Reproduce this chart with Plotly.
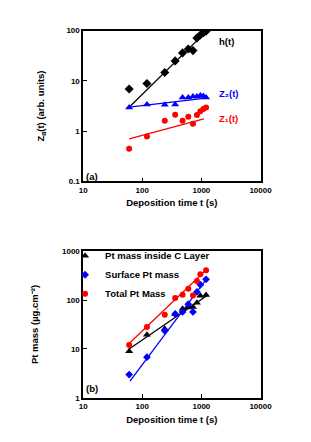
import plotly.graph_objects as go

# ---- Panel (a) data ----
t_a = [60, 120, 240, 360, 480, 600, 720, 840, 960, 1080, 1200]
h_t = [6.9, 8.9, 14.7, 25, 36, 43, 40, 71, 82, 91, 97]
z2_t = [2.95, 3.4, 3.35, 3.4, 4.7, 4.7, 4.9, 4.9, 5.1, 5.0, 4.7]
z1_t = [0.45, 0.78, 1.62, 2.12, 1.62, 1.94, 1.41, 2.1, 2.5, 2.77, 2.95]

h_fit_t = [60, 1250]
h_fit = [3.0, 100]
z2_fit_t = [60, 1300]
z2_fit = [3.0, 4.6]
z1_fit_t = [60, 1100]
z1_fit = [0.70, 1.75]

# ---- Panel (b) data ----
t_b = [60, 120, 240, 360, 480, 600, 720, 840, 960, 1200]
inside_mass = [9, 19.5, 26, 52, 66, 70, 72, 88, 122, 126]
surface_mass = [3.0, 6.8, 23.5, 52, 57, 82, 57, 146, 205, 265]
total_mass = [12, 28, 50, 110, 128, 170, 123, 245, 335, 405]

inside_fit_t = [60, 1250]
inside_fit = [10, 124]
surface_fit_t = [62, 1250]
surface_fit = [2.2, 280]
total_fit_t = [60, 1250]
total_fit = [13, 430]

xticks = [10, 100, 1000, 10000]
yticks_a = [0.1, 1, 10, 100]
yticks_b = [1, 10, 100, 1000]

BLUE = "#0000FF"
RED = "#FF0000"
BLACK = "#000000"
FONT = "Liberation Sans"

W, H = 311, 442
fig = go.Figure()

# panel (a)
fig.add_trace(go.Scatter(x=h_fit_t, y=h_fit, mode="lines", line=dict(color=BLACK, width=1.3),
                         xaxis="x", yaxis="y", showlegend=False))
fig.add_trace(go.Scatter(x=z2_fit_t, y=z2_fit, mode="lines", line=dict(color=BLUE, width=1.3),
                         xaxis="x", yaxis="y", showlegend=False))
fig.add_trace(go.Scatter(x=z1_fit_t, y=z1_fit, mode="lines", line=dict(color=RED, width=1.3),
                         xaxis="x", yaxis="y", showlegend=False))
fig.add_trace(go.Scatter(x=t_a, y=h_t, mode="markers", marker=dict(symbol="diamond", size=7, color=BLACK),
                         xaxis="x", yaxis="y", showlegend=False))
fig.add_trace(go.Scatter(x=t_a, y=z2_t, mode="markers", marker=dict(symbol="triangle-up", size=7, color=BLUE),
                         xaxis="x", yaxis="y", showlegend=False))
fig.add_trace(go.Scatter(x=t_a, y=z1_t, mode="markers", marker=dict(symbol="circle", size=6, color=RED),
                         xaxis="x", yaxis="y", showlegend=False))

# panel (b)
fig.add_trace(go.Scatter(x=inside_fit_t, y=inside_fit, mode="lines", line=dict(color=BLACK, width=1.3),
                         xaxis="x2", yaxis="y2", showlegend=False))
fig.add_trace(go.Scatter(x=surface_fit_t, y=surface_fit, mode="lines", line=dict(color=BLUE, width=1.3),
                         xaxis="x2", yaxis="y2", showlegend=False))
fig.add_trace(go.Scatter(x=total_fit_t, y=total_fit, mode="lines", line=dict(color=RED, width=1.3),
                         xaxis="x2", yaxis="y2", showlegend=False))
fig.add_trace(go.Scatter(x=t_b, y=inside_mass, mode="markers", name="Pt mass inside C Layer",
                         marker=dict(symbol="triangle-up", size=7, color=BLACK), xaxis="x2", yaxis="y2"))
fig.add_trace(go.Scatter(x=t_b, y=surface_mass, mode="markers", name="Surface Pt mass",
                         marker=dict(symbol="diamond", size=6, color=BLUE), xaxis="x2", yaxis="y2"))
fig.add_trace(go.Scatter(x=t_b, y=total_mass, mode="markers", name="Total Pt Mass",
                         marker=dict(symbol="circle", size=6, color=RED), xaxis="x2", yaxis="y2"))

xd = [75 / W, 262 / W]
ya = [1 - 173 / H, 1 - 19 / H]
yb = [1 - 394 / H, 1 - 244 / H]

tickfont = dict(family=FONT, size=8, color=BLACK, weight="bold")
titlefont = dict(family=FONT, size=9.5, color=BLACK, weight="bold")

def xaxis_cfg(anchor):
    return dict(type="log", range=[1, 4], domain=xd, anchor=anchor,
                tickvals=xticks, ticktext=[str(v) for v in xticks],
                ticks="inside", ticklen=4, tickwidth=1, tickcolor=BLACK,
                showline=True, linecolor=BLACK, linewidth=1.5, mirror=True,
                showgrid=False, zeroline=False, tickfont=tickfont,
                title=dict(text="Deposition time t (s)", font=titlefont, standoff=6))

def yaxis_cfg(anchor, rng, dom, vals, title, standoff):
    return dict(type="log", range=rng, domain=dom, anchor=anchor,
                tickvals=vals, ticktext=[f"{v:g}" for v in vals],
                ticks="inside", ticklen=4, tickwidth=1, tickcolor=BLACK,
                showline=True, linecolor=BLACK, linewidth=1.5, mirror=True,
                showgrid=False, zeroline=False, tickfont=tickfont,
                title=dict(text=title, font=titlefont, standoff=standoff))

fig.update_layout(
    width=W, height=H,
    margin=dict(l=0, r=0, t=0, b=0),
    paper_bgcolor="white", plot_bgcolor="white",
    font=dict(family=FONT, color=BLACK),
    xaxis=xaxis_cfg("y"),
    yaxis=yaxis_cfg("x", [-1, 2], ya, yticks_a, "Z<sub>α</sub>(t) (arb. units)", 20),
    xaxis2=xaxis_cfg("y2"),
    yaxis2=yaxis_cfg("x2", [0, 3], yb, yticks_b, "Pt mass (µg.cm⁻²)", 22),
    legend=dict(x=56 / W, y=1 - 234 / H, xanchor="left", yanchor="top",
                bgcolor="rgba(0,0,0,0)",
                font=dict(family=FONT, size=9.5, color=BLACK, weight="bold"),
                tracegroupgap=0),
    showlegend=True,
)

ann_font = dict(family=FONT, size=9.5, weight="bold")
fig.add_annotation(x=3.27, y=1.785, xref="x", yref="y", text="h(t)", showarrow=False,
                   xanchor="left", font=dict(ann_font, color=BLACK))
fig.add_annotation(x=3.27, y=0.75, xref="x", yref="y", text="Z₂(t)", showarrow=False,
                   xanchor="left", font=dict(ann_font, color=BLUE))
fig.add_annotation(x=3.27, y=0.262, xref="x", yref="y", text="Z₁(t)", showarrow=False,
                   xanchor="left", font=dict(ann_font, color=RED))
fig.add_annotation(x=1.02, y=-0.9, xref="x", yref="y", text="(a)", showarrow=False,
                   xanchor="left", font=dict(ann_font, color=BLACK))
fig.add_annotation(x=1.02, y=0.19, xref="x2", yref="y2", text="(b)", showarrow=False,
                   xanchor="left", font=dict(ann_font, color=BLACK))

fig.write_html("out.html")
